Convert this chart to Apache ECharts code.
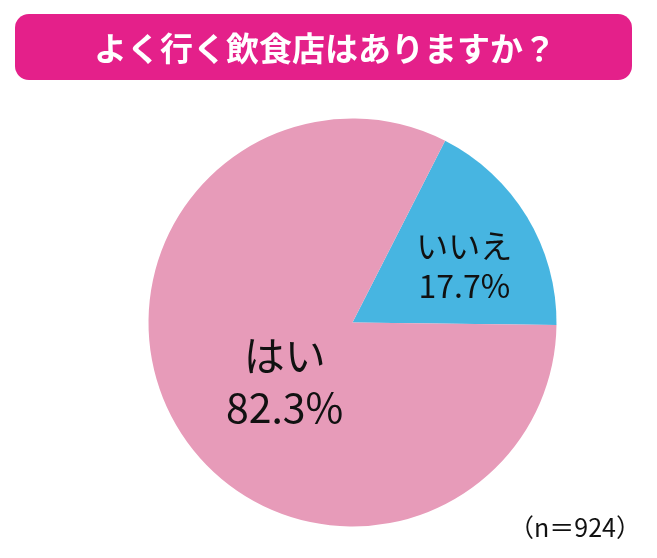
<!DOCTYPE html>
<html><head><meta charset="utf-8">
<script src="https://cdn.jsdelivr.net/npm/echarts@6/dist/echarts.min.js"></script>
<style>html,body{margin:0;padding:0;background:#fff}#c{width:657px;height:558px}</style>
</head><body><div id="c"></div>
<script>
const titleText = 'よく行く飲食店はありますか？';
const categories = ['いいえ', 'はい'];
const values = [17.7, 82.3];
const colors = ['#47b5e1', '#e79bb9'];
const note = '（n＝924）';

const labelStyle = [
  {fontSize:32, lineHeight:40, offset:[22,-2]},
  {fontSize:41, lineHeight:52, offset:[22,5]}
];

const chart = echarts.init(document.getElementById('c'));
chart.setOption({
  animation: false,
  graphic: [
    {type:'rect', shape:{x:15,y:14,width:617,height:66,r:14}, style:{fill:'#e4208a'}},
    {type:'text', x:325, y:48, style:{text:titleText, fill:'#fff', font:'bold 33px "Noto Sans CJK JP"', align:'center', verticalAlign:'middle'}},
    {type:'text', x:641, y:527, style:{text:note, fill:'#111', font:'25px "Noto Sans CJK JP"', align:'right', verticalAlign:'middle'}}
  ],
  series: [{
    type:'pie',
    center:[352.5, 322.5],
    radius:[0, 204],
    startAngle:63,
    clockwise:true,
    silent:true,
    labelLine:{show:false},
    data: categories.map((c,i)=>({
      name:c, value:values[i], itemStyle:{color:colors[i]},
      label:Object.assign({show:true, position:'inside',
        formatter: p => p.name + '\n' + p.value.toFixed(1) + '%',
        color:'#111', fontFamily:'"Noto Sans CJK JP"'}, labelStyle[i])
    }))
  }]
});
</script></body></html>
